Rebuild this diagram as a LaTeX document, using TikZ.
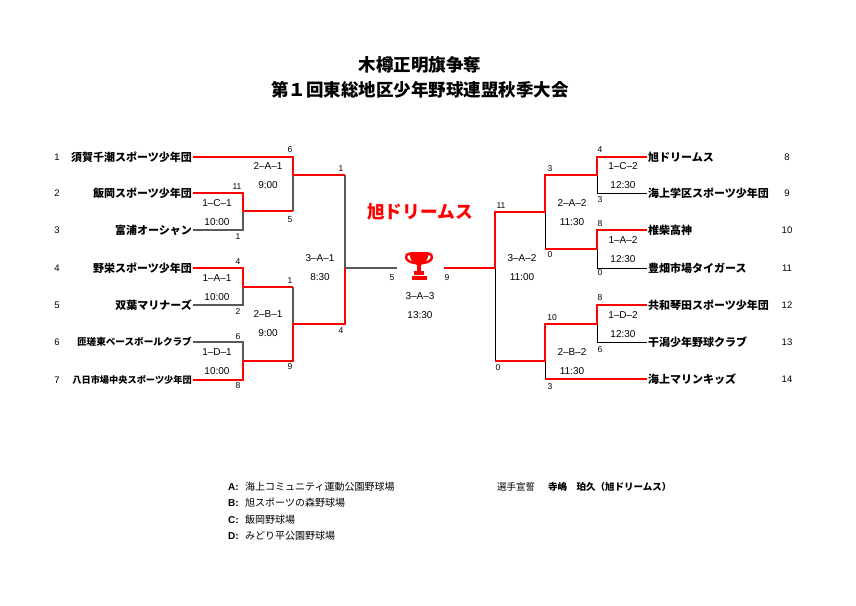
\documentclass[tikz,border=0pt]{standalone}
\usepackage{fontspec}
\setmainfont{Liberation Sans}
\newfontfamily\jp{Noto Sans CJK JP}
\usetikzlibrary{positioning}

\tikzset{
    win/.style={red, line width=1.6pt},
    lostL/.style={black!65, line width=1.1pt},
    lostR/.style={black, line width=1pt},
    team/.style={font=\jp\bfseries\fontsize{11}{13}\selectfont, inner sep=1pt},
    seed/.style={font=\fontsize{9.5}{11}\selectfont},
    score/.style={font=\fontsize{8.5}{10}\selectfont, inner sep=0pt},
    match/.style={font=\fontsize{10}{19}\selectfont, align=center, inner sep=0pt},
    legend/.style={font=\jp\fontsize{10}{12}\selectfont, anchor=west, inner sep=0pt},
}

\begin{document}
\begin{tikzpicture}[x=1pt, y=-1pt]
    \useasboundingbox (0,0) rectangle (856,605);
    % title
    \node[font=\jp\bfseries\fontsize{17.5}{20}\selectfont] (title1) at (420,65) {木樽正明旗争奪};
    \node[font=\jp\bfseries\fontsize{17.5}{20}\selectfont] (title2) at (420,90) {第１回東総地区少年野球連盟秋季大会};
    % teams, left side
    \foreach \n/\y/\fs/\name in {1/157/11/須賀千潮スポーツ少年団, 2/193/11/飯岡スポーツ少年団,
        3/230/11/富浦オーシャン, 4/268/11/野栄スポーツ少年団, 5/305/11/双葉マリナーズ,
        6/342/9.6/匝瑳東ベースボールクラブ, 7/380/9.2/八日市場中央スポーツ少年団}{%
        \node[seed] (s\n) at (57,\y) {\n};
        \node[team, anchor=east, font=\jp\bfseries\fontsize{\fs}{13}\selectfont] (t\n) at (193,\y) {\name};
    }
    % teams, right side
    \foreach \n/\y/\name in {8/157/旭ドリームス, 9/193/海上学区スポーツ少年団,
        10/230/椎柴高神, 11/268/豊畑市場タイガース, 12/305/共和琴田スポーツ少年団,
        13/342/干潟少年野球クラブ, 14/379/海上マリンキッズ}{%
        \node[seed] (s\n) at (787,\y) {\n};
        \node[team, anchor=west] (t\n) at (647,\y) {\name};
    }
    % match points
    \coordinate (m1C1) at (243,211);
    \coordinate (m1A1) at (243,287);
    \coordinate (m1D1) at (243,361);
    \coordinate (m2A1) at (293,175);
    \coordinate (m2B1) at (293,324);
    \coordinate (m3A1) at (345,268);
    \coordinate (m1C2) at (597,175);
    \coordinate (m1A2) at (597,249);
    \coordinate (m1D2) at (597,324);
    \coordinate (m2A2) at (545,212);
    \coordinate (m2B2) at (545,361);
    \coordinate (m3A2) at (495,268);
    \coordinate (fL) at (397,268);
    \coordinate (fR) at (444,268);
    % left bracket
    \draw[lostL] (t3.east) -| (m1C1);
    \draw[lostL] (t5.east) -| (m1A1);
    \draw[lostL] (t6.east) -| (m1D1);
    \draw[lostL] (m2A1 |- m1C1) -- (m2A1);
    \draw[lostL] (m2B1 |- m1A1) -- (m2B1);
    \draw[lostL] (m3A1 |- m2A1) -- (m3A1) -- (fL);
    \draw[win] (t1.east) -| (m2A1) -- (m3A1 |- m2A1);
    \draw[win] (t2.east) -| (m1C1) -- (m2A1 |- m1C1);
    \draw[win] (t4.east) -| (m1A1) -- (m2B1 |- m1A1);
    \draw[win] (t7.east) -| (m1D1) -- (m2B1 |- m1D1) -- (m2B1) -- (m3A1 |- m2B1) -- (m3A1);
    % right bracket
    \draw[lostR] (t9.west) -| (m1C2);
    \draw[lostR] (t11.west) -| (m1A2);
    \draw[lostR] (t13.west) -| (m1D2);
    \draw[lostR] (m2A2 |- m1A2) -- (m2A2);
    \draw[lostR] (t14.west -| m2B2) -- (m2B2);
    \draw[lostR] (m3A2 |- m2B2) -- (m3A2);
    \draw[win] (t8.west) -| (m1C2) -- (m2A2 |- m1C2) -- (m2A2) -- (m3A2 |- m2A2) -- (m3A2) -- (fR);
    \draw[win] (t10.west) -| (m1A2) -- (m2A2 |- m1A2);
    \draw[win] (t12.west) -| (m1D2) -- (m2B2 |- m1D2) -- (m2B2) -- (m3A2 |- m2B2);
    \draw[win] (t14.west) -- (t14.west -| m2B2);
    % match labels
    \foreach \x/\y/\txt [count=\i] in {217/212.5/1–C–1\\10:00, 217/287.5/1–A–1\\10:00,
        217/361.5/1–D–1\\10:00, 268/175.5/2–A–1\\9:00, 268/324/2–B–1\\9:00,
        320/268/3–A–1\\8:30, 420/305.5/3–A–3\\13:30, 623/175.5/1–C–2\\12:30,
        623/249.5/1–A–2\\12:30, 623/324.5/1–D–2\\12:30, 572/212.5/2–A–2\\11:30,
        572/361.5/2–B–2\\11:30, 522/267.5/3–A–2\\11:00}{%
        \node[match] (lab\i) at (\x,\y) {\txt};
    }
    % scores
    \foreach \x/\y/\s [count=\i] in {290/150/6, 290/220/5, 237/187/11, 238/237/1,
        341/169/1, 341/331/4, 238/262/4, 238/312/2, 290/281/1, 290/367/9,
        238/337/6, 238/386/8, 392/278/5, 447/278/9,
        600/150/4, 600/200/3, 550/169/3, 550/255/0, 501/206/11, 498/368/0,
        600/224/8, 600/273/0, 600/298/8, 600/350/6, 552/318/10, 550/387/3}{%
        \node[score] (sc\i) at (\x,\y) {\s};
    }
    % winner
    \node[font=\jp\bfseries\fontsize{17.7}{20}\selectfont, text=red] (champ) at (420,212) {旭ドリームス};
    % trophy
    \begin{scope}[shift={(419,266)}]
        \draw[red, line width=2.4pt] (-9,-12.5) .. controls (-15,-12.5) and (-15,-4) .. (-4,-3);
        \draw[red, line width=2.4pt] (9,-12.5) .. controls (15,-12.5) and (15,-4) .. (4,-3);
        \fill[red] (-9.5,-14) -- (9.5,-14) .. controls (9.5,-5) and (4.5,-1.5) .. (2,-1)
            -- (-2,-1) .. controls (-4.5,-1.5) and (-9.5,-5) .. cycle;
        \fill[red] (-2,-1) rectangle (2,5);
        \fill[red] (-5,5) rectangle (5,8.5);
        \fill[red] (-7.5,9.5) rectangle (7.5,14);
    \end{scope}
    % legend
    \node[legend] (legA) at (228,487) {\makebox[17pt][l]{\rmfamily\bfseries A:}海上コミュニティ運動公園野球場};
    \node[legend] (legB) at (228,503) {\makebox[17pt][l]{\rmfamily\bfseries B:}旭スポーツの森野球場};
    \node[legend] (legC) at (228,520) {\makebox[17pt][l]{\rmfamily\bfseries C:}飯岡野球場};
    \node[legend] (legD) at (228,536) {\makebox[17pt][l]{\rmfamily\bfseries D:}みどり平公園野球場};
    \node[legend, font=\jp\fontsize{9.5}{12}\selectfont] (oath) at (497,487) {選手宣誓\hspace{13pt}{\bfseries 寺嶋　珀久（旭ドリームス）}};
\end{tikzpicture}
\end{document}
